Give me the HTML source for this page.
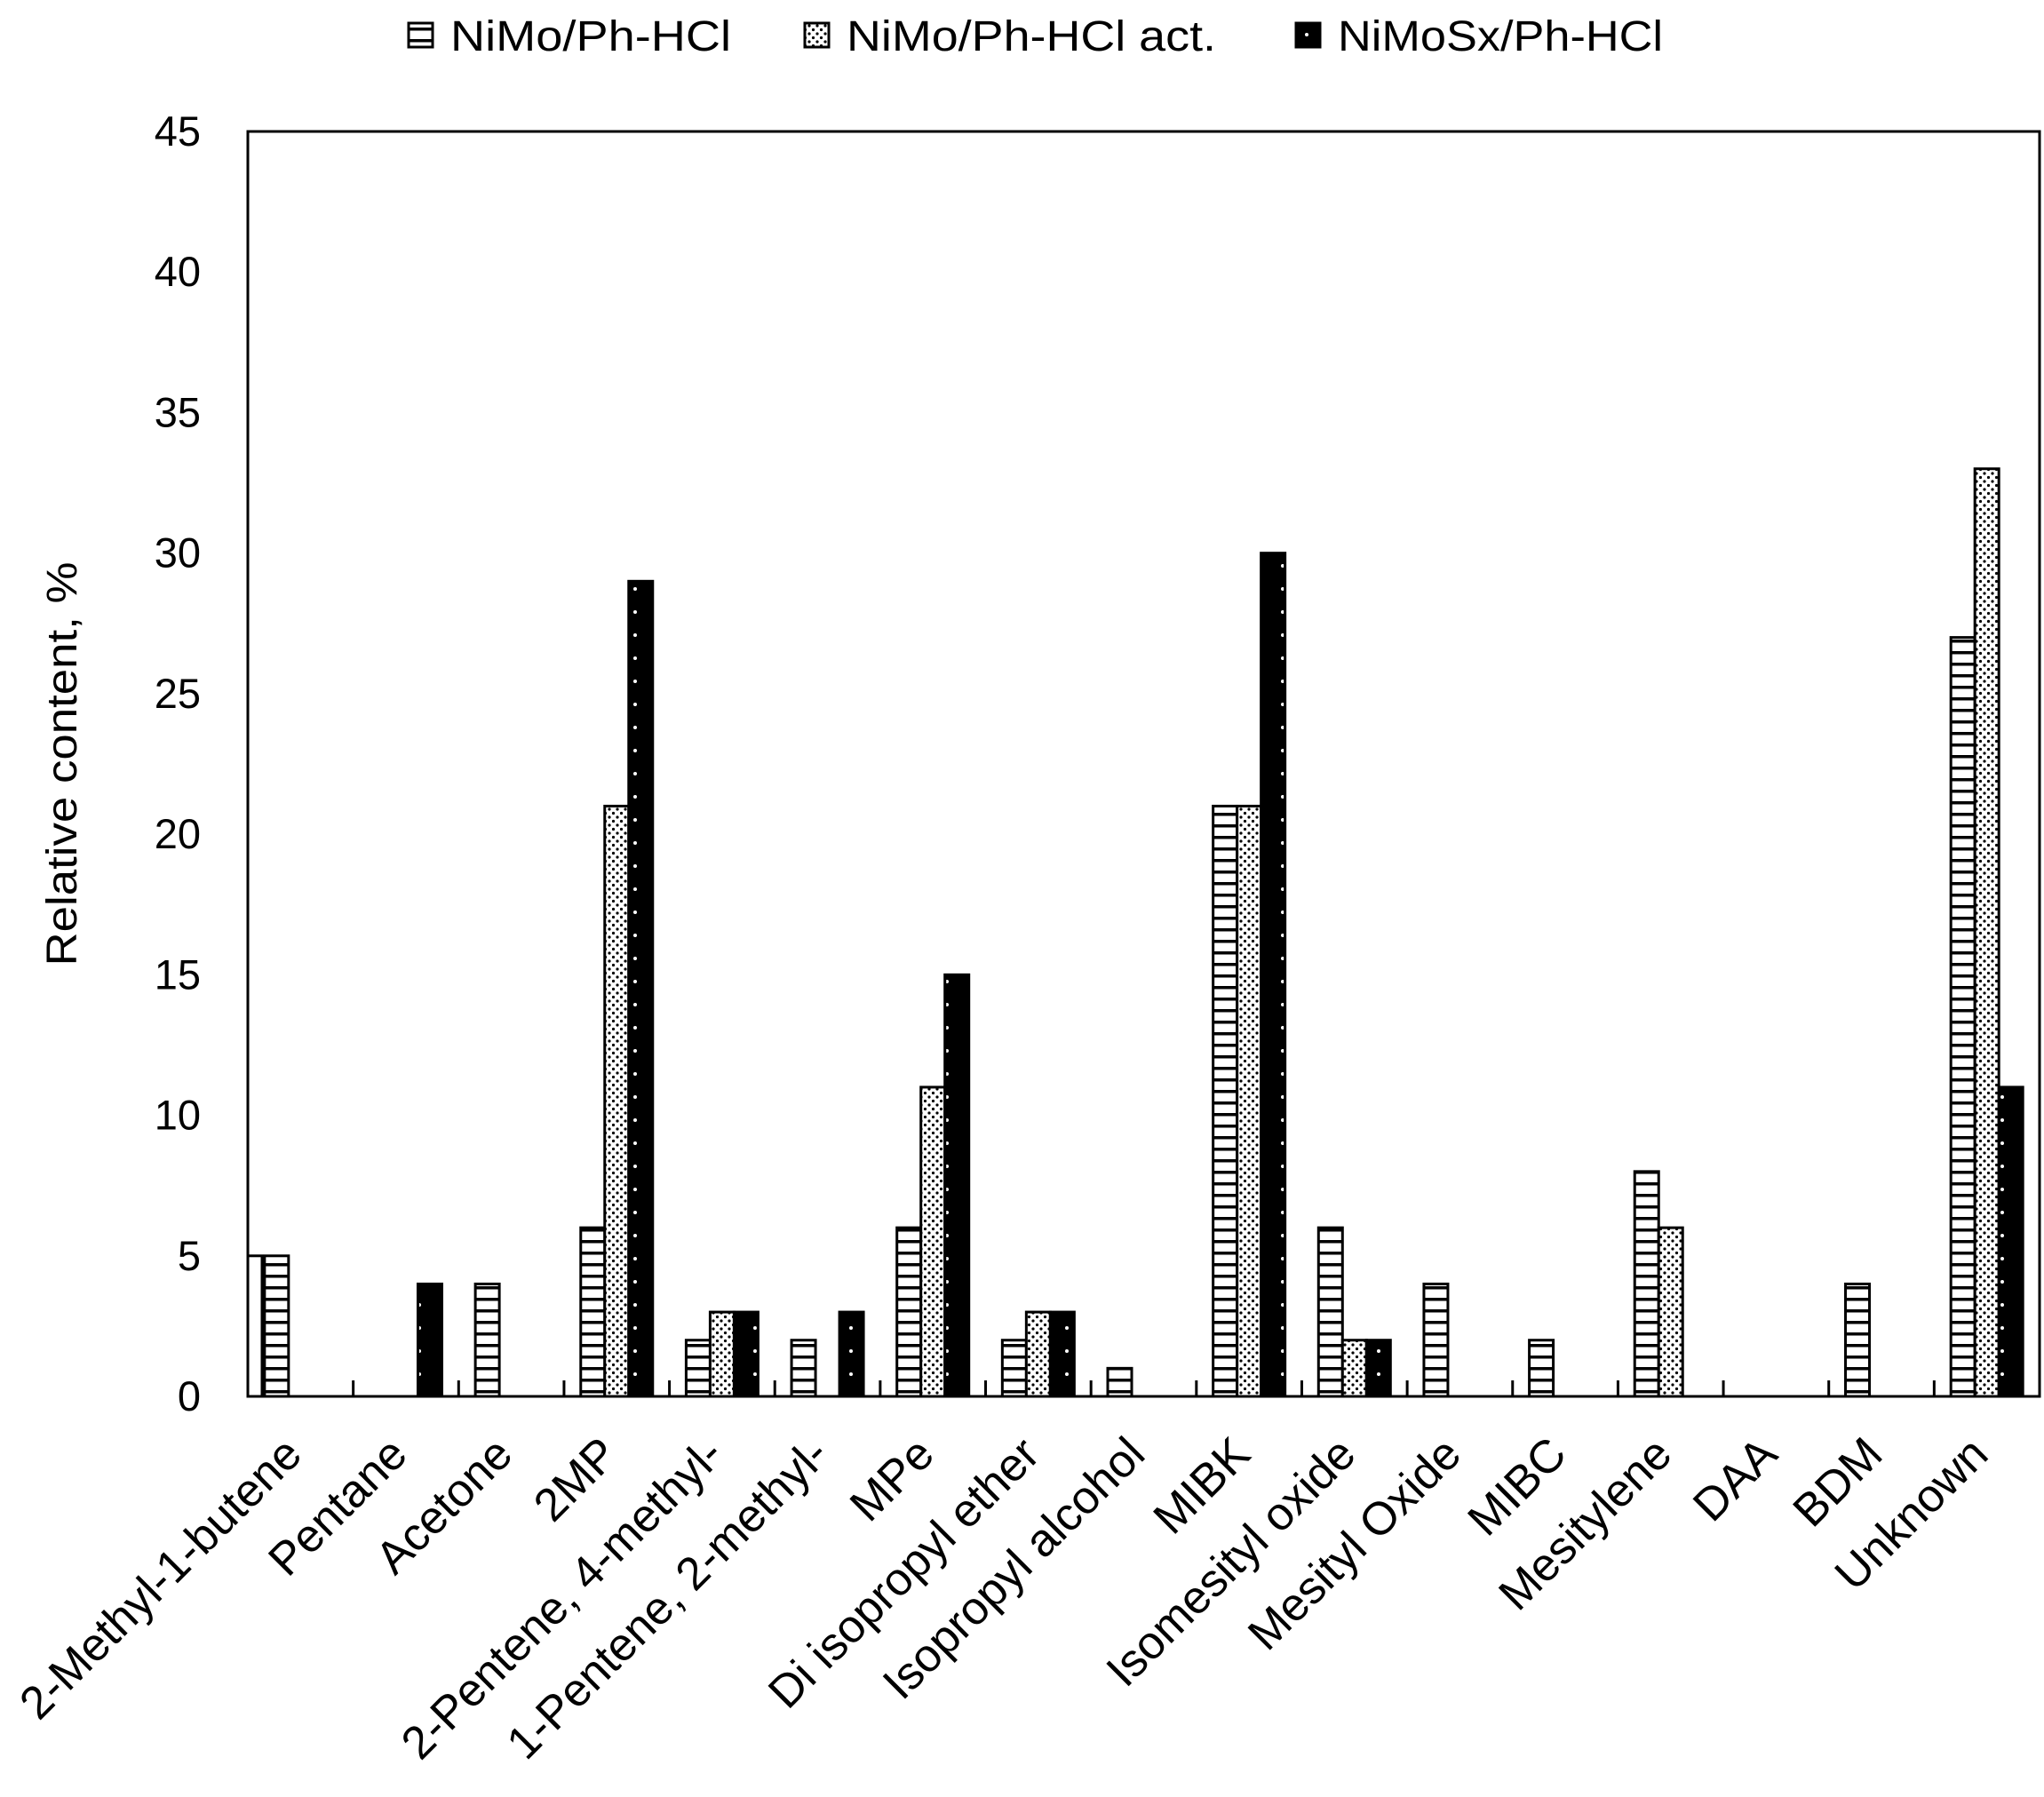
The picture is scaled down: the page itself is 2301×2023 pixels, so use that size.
<!DOCTYPE html>
<html><head><meta charset="utf-8"><style>
html,body{margin:0;padding:0;background:#fff;}
svg{display:block;font-family:"Liberation Sans",sans-serif;}
</style></head><body>
<svg id="c" width="2301" height="2023" viewBox="0 0 2301 2023" xmlns="http://www.w3.org/2000/svg">
<defs>
<pattern id="hs" width="10" height="13" patternUnits="userSpaceOnUse">
<rect width="10" height="13" fill="#fff"/><rect y="5" width="10" height="3.5" fill="#000"/>
</pattern>
<pattern id="dt" width="9" height="9" patternUnits="userSpaceOnUse">
<rect width="9" height="9" fill="#fff"/><circle cx="2" cy="2" r="1.6" fill="#000"/><circle cx="6.5" cy="6.5" r="1.6" fill="#000"/>
</pattern>
<pattern id="bk" width="27" height="26" patternUnits="userSpaceOnUse">
<rect width="27" height="26" fill="#000"/><circle cx="13" cy="13" r="2" fill="#fff"/>
</pattern>
</defs>
<g id="g"></g>
</svg>
<script>
var g=document.getElementById('g'),s='';
var L=279,R=2296,T=148,B=1572,u=(B-T)/45,cw=(R-L)/17,bw=27;
var cats=["2-Methyl-1-butene","Pentane","Acetone","2MP","2-Pentene, 4-methyl-","1-Pentene, 2-methyl-","MPe","Di isopropyl ether","Isopropyl alcohol","MIBK","Isomesityl oxide","Mesityl Oxide","MIBC","Mesitylene","DAA","BDM","Unknown"];
var v=[[5,0,0],[0,0,4],[4,0,0],[6,21,29],[2,3,3],[2,0,3],[6,11,15],[2,3,3],[1,0,0],[21,21,30],[6,2,2],[4,0,0],[2,0,0],[8,6,0],[0,0,0],[4,0,0],[27,33,11]];
var f=["url(#hs)","url(#dt)","url(#bk)"];
s+='<rect x="'+L+'" y="'+T+'" width="'+(R-L)+'" height="'+(B-T)+'" fill="none" stroke="#000" stroke-width="3"/>';
s+='<rect x="'+L+'" y="'+(B-5*u)+'" width="16" height="'+(5*u)+'" fill="#fff" stroke="#000" stroke-width="3"/>';
for(var i=0;i<17;i++){
 var c=L+cw*(i+0.5);
 for(var k=0;k<3;k++){var val=v[i][k];if(!val)continue;var x=c-1.5*bw+k*bw,h=val*u;
  s+='<rect x="'+x+'" y="'+(B-h)+'" width="'+bw+'" height="'+h+'" fill="'+f[k]+'" stroke="#000" stroke-width="3"/>';}
 if(i>0) s+='<line x1="'+(L+cw*i)+'" y1="'+B+'" x2="'+(L+cw*i)+'" y2="'+(B-18)+'" stroke="#000" stroke-width="3"/>';
 var tx=c+4,ty=1640;
 s+='<text x="'+tx+'" y="'+ty+'" font-size="52" text-anchor="end" transform="rotate(-45 '+tx+' '+ty+')">'+cats[i]+'</text>';
}
for(var t=0;t<=45;t+=5){var y=B-t*u;
 s+='<text x="226" y="'+(y+16)+'" font-size="47" text-anchor="end">'+t+'</text>';}
s+='<text x="0" y="0" font-size="48" text-anchor="middle" textLength="455" lengthAdjust="spacingAndGlyphs" transform="translate(86 860) rotate(-90)">Relative content, %</text>';
var lg=[[460,"NiMo/Ph-HCl",0,316],[906,"NiMo/Ph-HCl act.",1,416],[1459,"NiMoSx/Ph-HCl",2,366]];
lg.forEach(function(a){s+='<rect x="'+a[0]+'" y="26" width="27" height="27" fill="'+f[a[2]]+'" stroke="#000" stroke-width="3"/>';
 s+='<text x="'+(a[0]+47)+'" y="57" font-size="48" textLength="'+a[3]+'" lengthAdjust="spacingAndGlyphs">'+a[1]+'</text>';});
g.innerHTML=s;
</script>
</body></html>
